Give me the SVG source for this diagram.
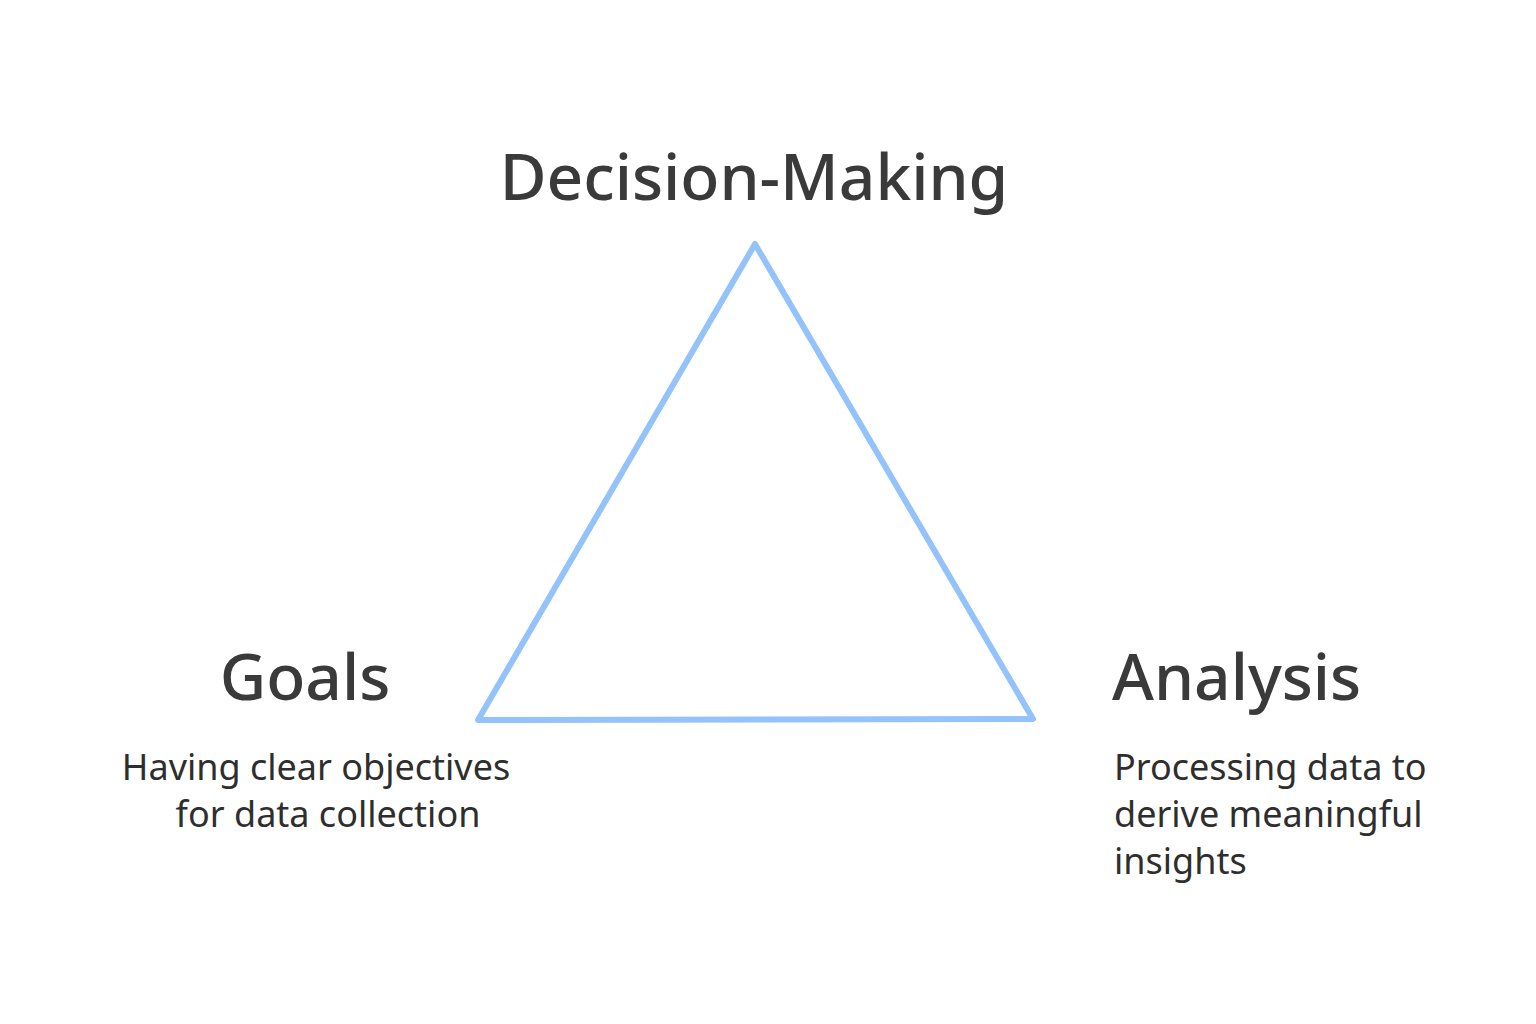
<svg xmlns="http://www.w3.org/2000/svg" width="1536" height="1024" viewBox="0 0 1536 1024">
<style>
.title{font-family:"Noto Sans","Open Sans",sans-serif;font-weight:500;fill:#3a3a3a;font-size:64px}
.desc{font-family:"Noto Sans","Open Sans",sans-serif;font-weight:400;fill:#2e2e2e;font-size:36px}
.tri{fill:none;stroke:#93c3fa;stroke-width:6;stroke-linejoin:round}
</style>
<rect width="1536" height="1024" fill="#ffffff"/>
<g id="connectors">
<polygon class="tri" points="755,244 1033,719 478,720"/>
</g>
<g id="decision-making">
<text class="title" x="754" y="200" text-anchor="middle">Decision-Making</text>
</g>
<g id="goals">
<text class="title" x="305" y="700" text-anchor="middle">Goals</text>
<text class="desc" x="316" y="780" text-anchor="middle">Having clear objectives</text>
<text class="desc" x="328" y="827" text-anchor="middle">for data collection</text>
</g>
<g id="analysis">
<text class="title" x="1112" y="700">Analysis</text>
<text class="desc" x="1114" y="780">Processing data to</text>
<text class="desc" x="1114" y="827">derive meaningful</text>
<text class="desc" x="1114" y="874">insights</text>
</g>
</svg>
